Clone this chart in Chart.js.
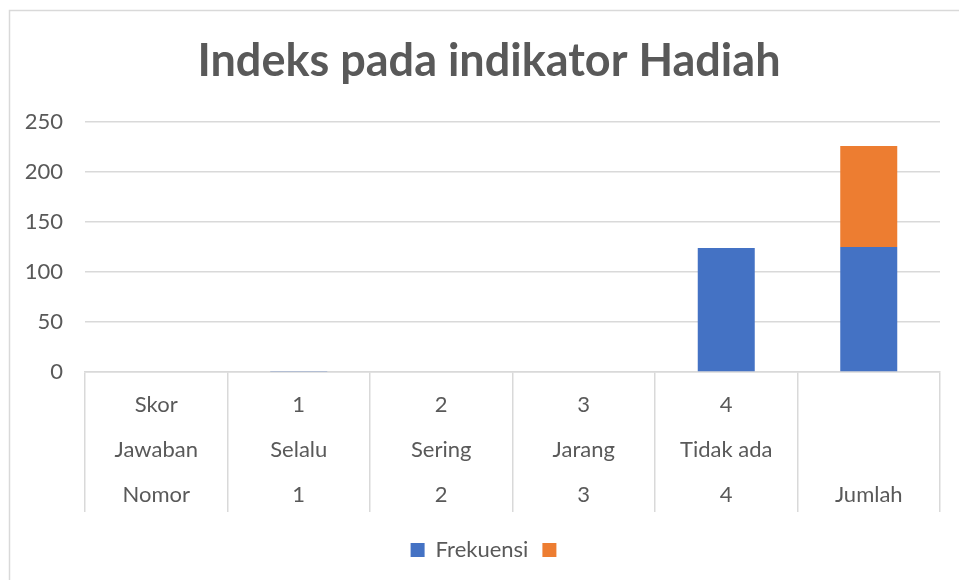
<!DOCTYPE html>
<html>
<head>
<meta charset="utf-8">
<script src="https://cdn.jsdelivr.net/npm/chart.js@4/dist/chart.umd.min.js"></script>
<style>
  html, body { margin: 0; padding: 0; background: #fff; }
  #wrap { width: 959px; height: 580px; position: relative; }
</style>
</head>
<body>
<div id="wrap"><canvas id="chart"></canvas></div>
<script>
// Category rows (multi-level axis, top to bottom)
const skorRow = ['Skor', '1', '2', '3', '4', ''];
const jawabanRow = ['Jawaban', 'Selalu', 'Sering', 'Jarang', 'Tidak ada', ''];
const nomorRow = ['Nomor', '1', '2', '3', '4', 'Jumlah'];

// Series values
const frekuensi = [0, 1, 0, 0, 124, 125];
const seriesTwo = [0, 0, 0, 0, 0, 101];

// Value axis
const yMin = 0;
const yMax = 250;
const yStep = 50;

const labels = skorRow.map((s, i) => [s, jawabanRow[i], nomorRow[i]]);

const grey = '#595959';
const lineGrey = '#d9d9d9';
const fontFamily = 'Lato, "Open Sans", sans-serif';

Chart.defaults.color = grey;
Chart.defaults.font.family = fontFamily;

// outer frame of the chart box (only left and top edges are visible)
const frame = {
    id: 'frame',
    beforeDraw(chart) {
        const c = chart.ctx;
        c.save();
        c.strokeStyle = lineGrey;
        c.lineWidth = 1.5;
        c.beginPath();
        c.moveTo(9.5, 580);
        c.lineTo(9.5, 10.5);
        c.lineTo(959, 10.5);
        c.stroke();
        c.restore();
    }
};

new Chart(document.getElementById('chart'), {
    type: 'bar',
    data: {
        labels: labels,
        datasets: [{
            label: 'Frekuensi',
            data: frekuensi,
            backgroundColor: '#4472C4',
            barPercentage: 0.4,
            categoryPercentage: 1
        }, {
            label: '',
            data: seriesTwo,
            backgroundColor: '#ED7D31',
            barPercentage: 0.4,
            categoryPercentage: 1
        }]
    },
    options: {
        responsive: true,
        maintainAspectRatio: false,
        animation: false,
        layout: {
            padding: { left: 19, right: 0, top: 0, bottom: 9 }
        },
        plugins: {
            title: {
                display: true,
                text: 'Indeks pada indikator Hadiah',
                color: grey,
                font: { size: 45, weight: 'bold', lineHeight: 1.2 },
                padding: { top: 34, bottom: 34 }
            },
            legend: {
                position: 'bottom',
                labels: {
                    boxWidth: 14,
                    boxHeight: 14,
                    padding: 14,
                    color: grey,
                    font: { size: 22 }
                }
            },
            tooltip: { enabled: false }
        },
        scales: {
            x: {
                stacked: true,
                offset: true,
                grid: {
                    offset: true,
                    drawOnChartArea: false,
                    drawTicks: true,
                    tickLength: 140,
                    tickColor: lineGrey,
                    lineWidth: 1.5
                },
                border: { color: lineGrey, width: 1.5 },
                ticks: {
                    autoSkip: false,
                    maxRotation: 0,
                    padding: -129.5,
                    color: grey,
                    font: { size: 22, lineHeight: 45 / 22 }
                },
                afterFit(scale) { scale.height = 153; }
            },
            y: {
                stacked: true,
                min: yMin,
                max: yMax,
                ticks: {
                    stepSize: yStep,
                    padding: 22,
                    color: grey,
                    font: { size: 22 }
                },
                grid: {
                    color: lineGrey,
                    lineWidth: 1.5,
                    drawTicks: false
                },
                border: { display: false },
                afterFit(scale) { scale.width = 66; }
            },
            // empty right-hand spacer so the title centres over the whole box
            spacer: {
                type: 'linear',
                position: 'right',
                display: true,
                grid: { display: false },
                ticks: { display: false },
                border: { display: false },
                afterFit(scale) { scale.width = 19; }
            }
        }
    },
    plugins: [frame]
});
</script>
</body>
</html>
